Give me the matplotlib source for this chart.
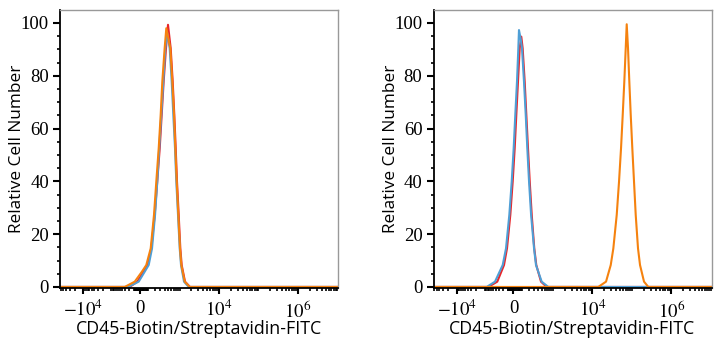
import matplotlib
matplotlib.use("Agg")
import matplotlib.pyplot as plt
import numpy as np

plt.rcParams["mathtext.fontset"] = "stix"

# ---- data: fluorescence intensity (x) vs relative cell number (y) ----
# left panel
left_red_x = [-65000, -187, -44, 93, 142, 193, 237, 284, 326, 372, 433, 492,
              582, 658, 725, 790, 853, 944, 1040, 1128, 1372, 1840, 1.03e7]
left_red_y = [0, 0, 2.0, 8.3, 14.6, 27.3, 39.9, 52.5, 65.2, 77.8, 90.4, 99.3,
              90.4, 77.8, 65.2, 52.5, 39.9, 27.3, 14.6, 8.3, 2.0, 0, 0]

left_blue_x = [-65000, -226, -21, 106, 152, 199, 237, 274, 317, 363, 414, 462,
               547, 619, 683, 757, 818, 906, 1002, 1083, 1294, 1705, 1.03e7]
left_blue_y = [0, 0, 2.0, 8.3, 14.6, 27.3, 39.9, 52.5, 65.2, 77.8, 90.4, 96.5,
               90.4, 77.8, 65.2, 52.5, 39.9, 27.3, 14.6, 8.3, 2.0, 0, 0]

left_orange_x = [-65000, -316, -88, 23, 75, 133, 182, 220, 264, 304, 340, 397, 442,
                 568, 643, 713, 771, 838, 922, 1020, 1102, 1348, 1808, 1.03e7]
left_orange_y = [0, 0, 2.0, 5.8, 8.3, 14.6, 27.3, 39.9, 52.5, 65.2, 77.8, 90.4, 98.0,
                 90.4, 77.8, 65.2, 52.5, 39.9, 27.3, 14.6, 8.3, 2.0, 0, 0]

# right panel
right_red_x = [-65000, -756, -345, -169, -110, -52, -13, 14, 33, 53, 74, 94,
               112, 140, 164, 190, 219, 255, 306, 351, 477, 678, 1.03e7]
right_red_y = [0, 0, 2.0, 8.3, 14.6, 27.3, 39.9, 52.5, 65.2, 77.8, 90.4, 94.8,
               90.4, 77.8, 65.2, 52.5, 39.9, 27.3, 14.6, 8.3, 2.0, 0, 0]

right_blue_x = [-65000, -864, -425, -198, -129, -69, -29, 2, 21, 41, 57, 65, 86,
                103, 130, 155, 179, 207, 243, 301, 344, 498, 748, 1.03e7]
right_blue_y = [0, 0, 2.0, 8.3, 14.6, 27.3, 39.9, 52.5, 65.2, 77.8, 90.4, 97.3, 94.0,
                90.4, 77.8, 65.2, 52.5, 39.9, 27.3, 14.6, 8.3, 2.0, 0, 0]

right_orange_x = [-65000, 14000, 22000, 28960, 33700, 41060, 46960, 52750, 58240,
                  63900, 69360, 73500, 79300, 85560, 92860, 101900, 112500,
                  124200, 142000, 159700, 201600, 259100, 1.03e7]
right_orange_y = [0, 0, 2.0, 8.3, 14.6, 27.3, 39.9, 52.5, 65.2, 77.8, 90.4, 99.5,
                  90.4, 77.8, 65.2, 52.5, 39.9, 27.3, 14.6, 8.3, 2.0, 0, 0]

x_major = [-1e4, 0, 1e4, 1e6]
x_major_labels = [r"$-10^{4}$", "0", r"$10^{4}$", r"$10^{6}$"]

red = "#e8262a"
blue = "#4f9fd6"
orange = "#f5820f"

# ---- biexponential-like axis (asinh, compressed negative side) ----
def fwd(x):
    u = np.arcsinh(np.asarray(x, float) / 200.0)
    return np.where(u < 0, 0.72 * u, u)


def inv(u):
    u = np.asarray(u, float)
    return np.where(u < 0, 200.0 * np.sinh(u / 0.72), 200.0 * np.sinh(u))


minor = []
for d in [10, 100, 1000, 10000, 100000, 1000000]:
    for m in range(2, 10):
        minor.append(m * d)
        if m * d < 7e4:
            minor.append(-m * d)
minor += [10, -10, 100, -100, 1000, -1000, 1e5, 1e7]
minor = [v for v in minor if -6.5e4 < v < 1.03e7]

fig = plt.figure(figsize=(7.22, 3.5), dpi=100)
axes = [fig.add_axes([60 / 722, 62 / 350, 278 / 722, 278 / 350]),
        fig.add_axes([433.5 / 722, 62 / 350, 278 / 722, 278 / 350])]

series = [
    [(left_red_x, left_red_y, red), (left_blue_x, left_blue_y, blue),
     (left_orange_x, left_orange_y, orange)],
    [(right_red_x, right_red_y, red), (right_blue_x, right_blue_y, blue),
     (right_orange_x, right_orange_y, orange)],
]

for ax, curves in zip(axes, series):
    ax.set_xscale("function", functions=(fwd, inv))
    for xs, ys, c in curves:
        ax.plot(xs, ys, color=c, lw=1.5, solid_joinstyle="round")
    ax.set_xlim(-6.5e4, 1.03e7)
    ax.set_ylim(-0.4, 104.9)

    ax.set_xticks(x_major)
    ax.set_xticklabels(x_major_labels)
    ax.set_xticks(minor, minor=True)
    ax.set_yticks([0, 20, 40, 60, 80, 100])
    ax.set_yticks(np.arange(0, 105, 5), minor=True)

    ax.tick_params(which="major", direction="out", length=5, width=1.5,
                   labelsize=13.5, pad=3)
    ax.tick_params(axis="x", which="major", length=4.5, pad=4)
    ax.tick_params(which="minor", direction="out", length=2.5, width=1.2)
    for lab in ax.get_xticklabels() + ax.get_yticklabels():
        lab.set_fontfamily("Liberation Serif")

    for s in ["left", "bottom"]:
        ax.spines[s].set_color("black")
        ax.spines[s].set_linewidth(1.3)
    for s in ["top", "right"]:
        ax.spines[s].set_color("#999999")
        ax.spines[s].set_linewidth(1.0)

    ax.set_ylabel("Relative Cell Number", fontfamily="Open Sans", fontsize=12.4)
    ax.yaxis.set_label_coords(-0.125, 0.5)
    ax.set_xlabel("CD45-Biotin/Streptavidin-FITC", fontfamily="Open Sans",
                  fontsize=12.8)
    ax.xaxis.set_label_coords(0.5, -0.115)

fig.savefig("out.png", dpi=100)
